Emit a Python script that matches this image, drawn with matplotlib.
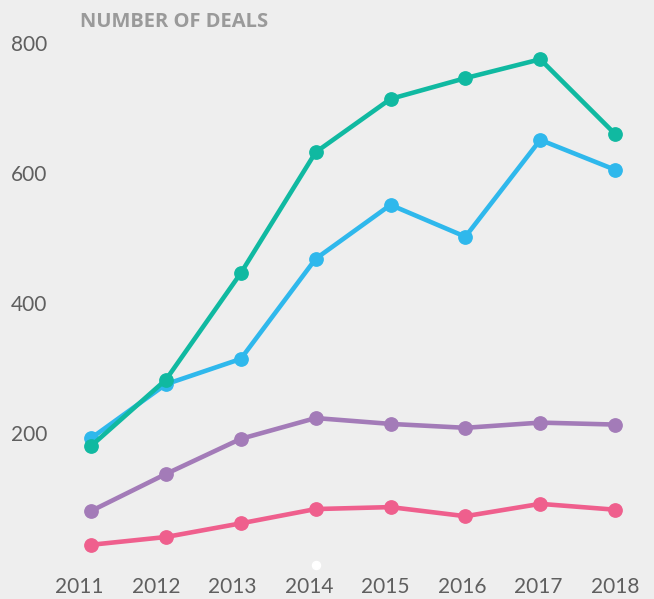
import matplotlib
matplotlib.use('Agg')
import matplotlib.pyplot as plt

# values
years = [2011, 2012, 2013, 2014, 2015, 2016, 2017, 2018]
deals_teal = [180, 282, 446, 632, 714, 746, 775, 660]
deals_blue = [192, 275, 314, 468, 551, 502, 651, 605]
deals_purple = [80, 137, 191, 223, 214, 208, 216, 213]
deals_pink = [28, 40, 61, 83, 86, 72, 91, 82]
y_ticks = [200, 400, 600, 800]
title = 'NUMBER OF DEALS'

# the little white dot sitting under 2014 in the original
dot_year = 2014
dot_value = -3

BG = '#eeeeee'
TEXT = '#5f5f5f'

plt.rcParams['font.family'] = ['Lato', 'DejaVu Sans']

fig = plt.figure(figsize=(6.54, 5.99), dpi=100, facecolor=BG)
ax = fig.add_axes([0.082, 0.0384, 0.9158, 0.944])
ax.set_facecolor(BG)

series = [
    (deals_pink, '#ef5f8d'),
    (deals_purple, '#a37bb8'),
    (deals_blue, '#2fb8ec'),
    (deals_teal, '#10b9a1'),
]
for values, colour in series:
    ax.plot(years, values, color=colour, lw=3.3, marker='o', ms=9.6,
            solid_joinstyle='round', solid_capstyle='round', zorder=3)

ax.plot([dot_year], [dot_value], 'o', color='white', ms=5.8, zorder=4)

ax.set_xlim(2010.5, 2018.5)
ax.set_ylim(-20, 850)

# the year labels are spread a bit wider than the points in the original
label_stretch = 1.022
ax.set_xticks([2018 - (2018 - y) * label_stretch for y in years])
ax.set_xticklabels([str(y) for y in years])
ax.set_yticks(y_ticks)
ax.set_yticklabels([str(v) for v in y_ticks])

ax.tick_params(axis='both', length=0, labelsize=15, labelcolor=TEXT)
ax.tick_params(axis='y', pad=4.8)
ax.tick_params(axis='x', pad=1)
for s in ax.spines.values():
    s.set_visible(False)

fig.text(80 / 654, 1 - 27 / 599, title, fontsize=14.5,
         family=['Open Sans', 'DejaVu Sans'], fontweight='bold',
         color='#9a9a9a', va='baseline', ha='left')

fig.savefig('out.png', dpi=100, facecolor=BG)
